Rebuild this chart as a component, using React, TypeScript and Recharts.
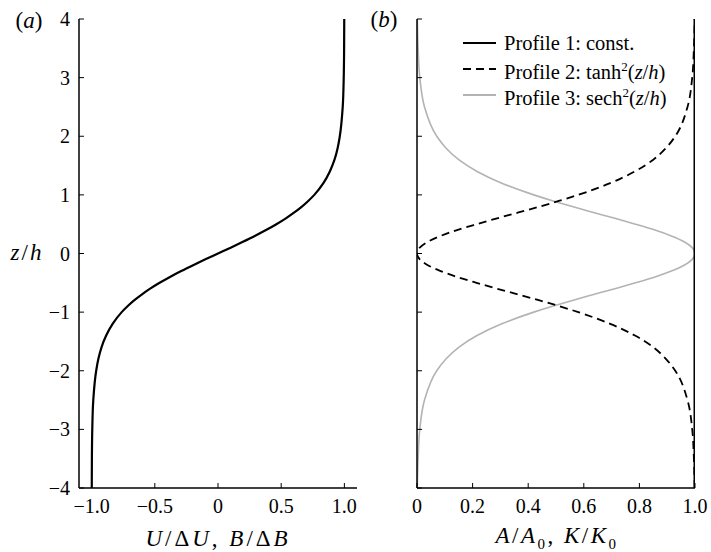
import { LineChart, Line, XAxis, YAxis } from "recharts";

// z/h sampling levels
const zLevels = [
  -4, -3.5, -3, -2.5, -2, -1.8, -1.6, -1.4, -1.2, -1, -0.9, -0.8, -0.7, -0.6,
  -0.5, -0.4, -0.3, -0.2, -0.1, 0, 0.1, 0.2, 0.3, 0.4, 0.5, 0.6, 0.7, 0.8, 0.9,
  1, 1.2, 1.4, 1.6, 1.8, 2, 2.5, 3, 3.5, 4,
];

// (a) U/ΔU, B/ΔB
const velocity = [
  -0.999, -0.998, -0.995, -0.987, -0.964, -0.947, -0.922, -0.885, -0.834,
  -0.762, -0.716, -0.664, -0.604, -0.537, -0.462, -0.38, -0.291, -0.197,
  -0.1, 0, 0.1, 0.197, 0.291, 0.38, 0.462, 0.537, 0.604, 0.664, 0.716, 0.762,
  0.834, 0.885, 0.922, 0.947, 0.964, 0.987, 0.995, 0.998, 0.999,
];

// (b) A/A0, K/K0
const profile1 = zLevels.map(() => 1);
const profile2 = [
  0.999, 0.996, 0.99, 0.973, 0.929, 0.896, 0.85, 0.784, 0.695, 0.58, 0.513,
  0.441, 0.365, 0.288, 0.214, 0.144, 0.085, 0.039, 0.01, 0, 0.01, 0.039,
  0.085, 0.144, 0.214, 0.288, 0.365, 0.441, 0.513, 0.58, 0.695, 0.784, 0.85,
  0.896, 0.929, 0.973, 0.99, 0.996, 0.999,
];
const profile3 = [
  0.001, 0.004, 0.01, 0.027, 0.071, 0.104, 0.15, 0.216, 0.305, 0.42, 0.487,
  0.559, 0.635, 0.712, 0.786, 0.856, 0.915, 0.961, 0.99, 1, 0.99, 0.961,
  0.915, 0.856, 0.786, 0.712, 0.635, 0.559, 0.487, 0.42, 0.305, 0.216, 0.15,
  0.104, 0.071, 0.027, 0.01, 0.004, 0.001,
];

const zTicks = [-4, -3, -2, -1, 0, 1, 2, 3, 4];
const uTicks = [-1, -0.5, 0, 0.5, 1];
const aTicks = [0, 0.2, 0.4, 0.6, 0.8, 1];

const rowsA = zLevels.map((z, i) => ({ z, u: velocity[i] }));
const rowsB = zLevels.map((z, i) => ({
  z,
  p1: profile1[i],
  p2: profile2[i],
  p3: profile3[i],
}));

const serif = "Liberation Serif, Tinos, DejaVu Serif, serif";
const tickStyle = { fill: "#000", fontSize: 20, fontFamily: serif };
const axisLine = { stroke: "#000", strokeWidth: 1.5 };
const tickLine = { stroke: "#000", strokeWidth: 1 };
const minus = (s: string) => s.replace("-", "\u2212");
const fmtU = (v: number) => (v === 0 ? "0" : minus(v.toFixed(1)));
const fmtA = (v: number) => (v === 0 ? "0" : v.toFixed(1));
const fmtZ = (v: number) => minus(String(v));
const blank = () => "";

const Overlay = ({ x, y, children, size = 20, spacing = 0 }: any) => (
  <div
    style={{
      position: "absolute",
      left: x,
      top: y,
      transform: "translate(-50%, -50%)",
      fontFamily: serif,
      fontSize: size,
      letterSpacing: spacing,
      whiteSpace: "nowrap",
      lineHeight: 1,
    }}
  >
    {children}
  </div>
);

const sup = { fontSize: 13, letterSpacing: 0 };
const sub = { fontSize: 15, fontStyle: "normal" as const };

const legendItems = [
  { stroke: "#000", dash: undefined, label: <>Profile 1: const.</> },
  {
    stroke: "#000",
    dash: "8 5",
    label: (
      <>
        Profile 2: tanh<sup style={sup}>2</sup>(<i>z</i>/<i>h</i>)
      </>
    ),
  },
  {
    stroke: "#b3b3b3",
    dash: undefined,
    label: (
      <>
        Profile 3: sech<sup style={sup}>2</sup>(<i>z</i>/<i>h</i>)
      </>
    ),
  },
];

export default function App() {
  return (
    <div
      style={{
        position: "absolute",
        left: 0,
        top: 0,
        width: 711,
        height: 552,
        background: "#fff",
      }}
    >
      <div style={{ position: "absolute", left: 0, top: 0 }}>
        <LineChart
          width={360}
          height={552}
          data={rowsA}
          layout="vertical"
          margin={{ top: 19, right: 3, left: 0, bottom: 34 }}
        >
          <XAxis
            type="number"
            domain={[-1.1, 1.1]}
            ticks={uTicks}
            tickFormatter={fmtU}
            tick={tickStyle}
            tickSize={-5}
            tickMargin={16}
            axisLine={axisLine}
            tickLine={tickLine}
            height={30}
            allowDataOverflow
          />
          <XAxis
            xAxisId="top"
            orientation="top"
            type="number"
            domain={[-1.1, 1.1]}
            ticks={uTicks}
            tickFormatter={blank}
            tickSize={-5}
            axisLine={axisLine}
            tickLine={tickLine}
            height={0}
            allowDataOverflow
          />
          <YAxis
            type="number"
            dataKey="z"
            domain={[-4, 4]}
            ticks={zTicks}
            reversed
            tickFormatter={fmtZ}
            tick={tickStyle}
            tickSize={-5}
            tickMargin={14}
            axisLine={axisLine}
            tickLine={tickLine}
            width={79}
          />
          <YAxis
            yAxisId="right"
            orientation="right"
            type="number"
            dataKey="z"
            domain={[-4, 4]}
            ticks={zTicks}
            reversed
            tickFormatter={blank}
            tickSize={-5}
            axisLine={axisLine}
            tickLine={tickLine}
            width={0}
          />
          <Line
            dataKey="u"
            type="monotone"
            stroke="#000"
            strokeWidth={2.2}
            dot={false}
            isAnimationActive={false}
          />
        </LineChart>
      </div>

      <div style={{ position: "absolute", left: 360, top: 0 }}>
        <LineChart
          width={351}
          height={552}
          data={rowsB}
          layout="vertical"
          margin={{ top: 19, right: 16, left: 0, bottom: 34 }}
        >
          <XAxis
            type="number"
            domain={[0, 1]}
            ticks={aTicks}
            tickFormatter={fmtA}
            tick={tickStyle}
            tickSize={-5}
            tickMargin={16}
            axisLine={axisLine}
            tickLine={tickLine}
            height={30}
            allowDataOverflow
          />
          <XAxis
            xAxisId="top"
            orientation="top"
            type="number"
            domain={[0, 1]}
            ticks={aTicks}
            tickFormatter={blank}
            tickSize={-5}
            axisLine={axisLine}
            tickLine={tickLine}
            height={0}
            allowDataOverflow
          />
          <YAxis
            type="number"
            dataKey="z"
            domain={[-4, 4]}
            ticks={zTicks}
            reversed
            tickFormatter={blank}
            tickSize={-5}
            axisLine={axisLine}
            tickLine={tickLine}
            width={57}
          />
          <YAxis
            yAxisId="right"
            orientation="right"
            type="number"
            dataKey="z"
            domain={[-4, 4]}
            ticks={zTicks}
            reversed
            tickFormatter={blank}
            tickSize={-5}
            axisLine={axisLine}
            tickLine={tickLine}
            width={0}
          />
          <Line
            dataKey="p3"
            type="monotone"
            stroke="#b3b3b3"
            strokeWidth={1.6}
            dot={false}
            isAnimationActive={false}
          />
          <Line
            dataKey="p2"
            type="monotone"
            stroke="#000"
            strokeWidth={1.8}
            strokeDasharray="8 5"
            dot={false}
            isAnimationActive={false}
          />
          <Line
            dataKey="p1"
            type="monotone"
            stroke="#000"
            strokeWidth={3}
            dot={false}
            isAnimationActive={false}
          />
        </LineChart>
      </div>

      {/* legend */}
      <div
        style={{
          position: "absolute",
          left: 462,
          top: 30,
          fontFamily: serif,
          fontSize: 20.5,
          lineHeight: "26px",
        }}
      >
        {legendItems.map((it, i) => (
          <div key={i} style={{ display: "flex", alignItems: "center", height: 26 }}>
            <svg width={35} height={10} style={{ marginRight: 7 }}>
              <line
                x1={1}
                x2={34}
                y1={5}
                y2={5}
                stroke={it.stroke}
                strokeWidth={2}
                strokeDasharray={it.dash}
              />
            </svg>
            <span style={{ whiteSpace: "nowrap", lineHeight: "26px" }}>{it.label}</span>
          </div>
        ))}
      </div>

      <Overlay x={29} y={20} size={23}>
        (<i>a</i>)
      </Overlay>
      <Overlay x={384} y={19} size={23}>
        (<i>b</i>)
      </Overlay>
      <Overlay x={27} y={252} size={23} spacing={2}>
        <i>z</i>/<i>h</i>
      </Overlay>
      <Overlay x={218} y={538} size={23} spacing={3}>
        <i>U</i>/Δ<i>U</i>, <i>B</i>/Δ<i>B</i>
      </Overlay>
      <Overlay x={557} y={538} size={23} spacing={2.5}>
        <i>A</i>/<i>A</i>
        <sub style={sub}>0</sub>, <i>K</i>/<i>K</i>
        <sub style={sub}>0</sub>
      </Overlay>
    </div>
  );
}
